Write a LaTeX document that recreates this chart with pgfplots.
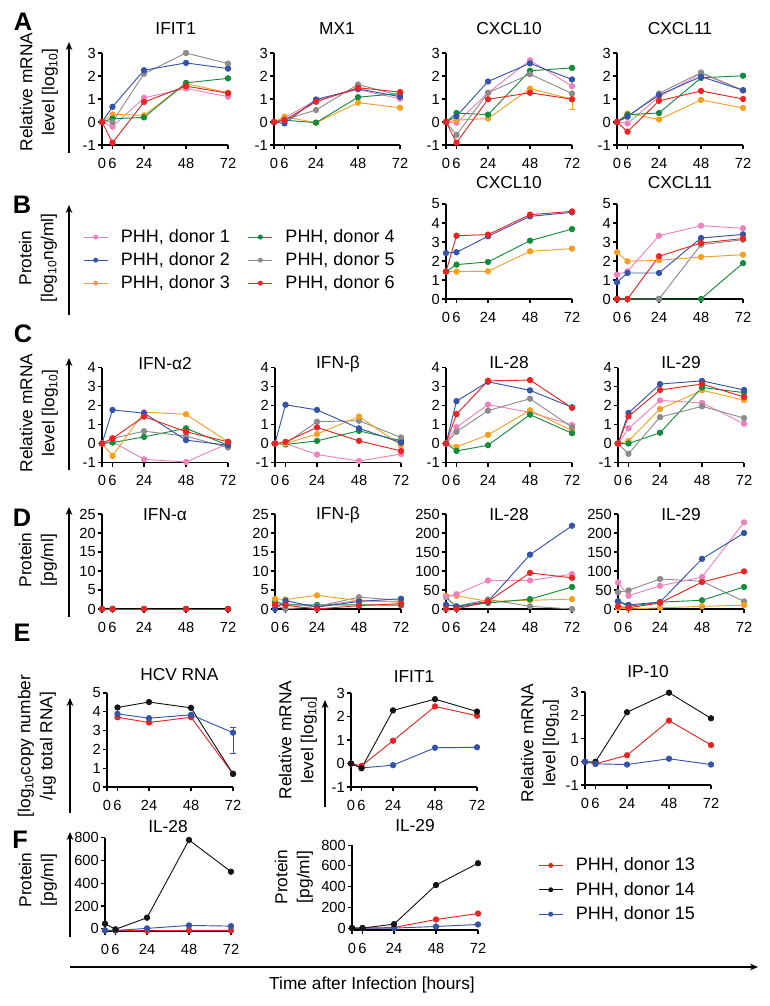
\documentclass[border=0pt]{standalone}
\usepackage{fontspec}
\setmainfont{Liberation Sans}
\usepackage{pgfplots}
\pgfplotsset{compat=1.18}
\usetikzlibrary{arrows.meta}

\definecolor{pk}{RGB}{238,130,190}
\definecolor{bl}{RGB}{52,84,170}
\definecolor{og}{RGB}{245,160,35}
\definecolor{gn}{RGB}{20,140,60}
\definecolor{gy}{RGB}{140,140,140}
\definecolor{rd}{RGB}{235,35,35}
\definecolor{bk}{RGB}{20,20,20}

\newcommand{\lab}{\fontsize{13}{16.5}\selectfont}
\newcommand{\letter}{\fontsize{19}{21}\selectfont\bfseries}

\pgfplotsset{
  d/.style={color=#1, line width=0.7pt, mark=*, mark size=2pt},
  panel/.style={
    scale only axis, width=94.5pt, anchor=south west,
    axis x line*=bottom, axis y line*=left,
    xmin=0, xmax=72, xtick={0,6,24,48,72},
    tick align=outside, major tick length=3pt,
    every tick/.style={black, line width=0.8pt},
    axis line style={black, line width=1pt},
    ticklabel style={font=\fontsize{11}{13}\selectfont, inner sep=1.5pt},
    xticklabel style={yshift=-5pt},
    /pgf/number format/assume math mode=true,
    title style={font=\fontsize{13}{15}\selectfont, at={(0.5,1)}, anchor=center},
    clip=false,
  },
  leg/.style={
    legend style={draw=none, fill=none, inner sep=0pt, row sep=3pt,
      font=\fontsize{13.5}{16}\selectfont,
      nodes={inner sep=1.5pt},
      /tikz/every odd column/.append style={column sep=8pt},
      /tikz/every even column/.append style={column sep=12pt}},
    legend cell align=left,
    legend image code/.code={\draw[##1, mark size=1.5pt, mark repeat=2, mark phase=2]
      plot coordinates {(0pt,0pt)(9pt,0pt)(18pt,0pt)};},
  },
}

\begin{document}
\begin{tikzpicture}

% ---------- A: relative mRNA ----------
\begin{axis}[panel, at={(76.5pt,-108.75pt)}, height=69pt, ymin=-1, ymax=3, ytick={-1,0,1,2,3},
  title={IFIT1}, title style={yshift=12pt, xshift=8pt}]
\addplot[d=pk] coordinates {(0,0)(6,-0.2)(24,1.05)(48,1.46)(72,1.1)};
\addplot[d=og] coordinates {(0,0)(6,0.33)(24,0.29)(48,1.67)(72,1.27)};
\addplot[d=gn] coordinates {(0,0)(6,0.14)(24,0.2)(48,1.7)(72,1.9)};
\addplot[d=gy] coordinates {(0,0)(6,0)(24,2.1)(48,3.0)(72,2.54)};
\addplot[d=bl] coordinates {(0,0)(6,0.66)(24,2.25)(48,2.57)(72,2.32)};
\addplot[d=rd] coordinates {(0,0)(6,-0.9)(24,0.87)(48,1.56)(72,1.25)};
\end{axis}

\begin{axis}[panel, at={(205.5pt,-108.75pt)}, height=69pt, ymin=-1, ymax=3, ytick={-1,0,1,2,3},
  title={MX1}, title style={yshift=12pt}]
\addplot[d=pk] coordinates {(0,0)(6,0.19)(24,0.94)(48,1.41)(72,1.01)};
\addplot[d=og] coordinates {(0,0)(6,0.23)(24,-0.03)(48,0.84)(72,0.62)};
\addplot[d=gn] coordinates {(0,0)(6,0.08)(24,-0.03)(48,1.08)(72,1.24)};
\addplot[d=gy] coordinates {(0,0)(6,0.1)(24,0.52)(48,1.63)(72,1.15)};
\addplot[d=bl] coordinates {(0,0)(6,-0.06)(24,0.98)(48,1.44)(72,1.1)};
\addplot[d=rd] coordinates {(0,0)(6,0.08)(24,0.88)(48,1.49)(72,1.3)};
\end{axis}

\begin{axis}[panel, at={(334.5pt,-108.75pt)}, height=69pt, ymin=-1, ymax=3, ytick={-1,0,1,2,3},
  title={CXCL10}, title style={yshift=12pt}]
\addplot[d=pk] coordinates {(0,0)(6,-0.03)(24,1.27)(48,2.68)(72,1.56)};
\addplot[d=og, error bars/.cd, y dir=minus, y explicit] coordinates {(0,0)(6,0.08)(24,0.15)(48,1.45)(72,0.99) -= (0,0.45)};
\addplot[d=gn] coordinates {(0,0)(6,0.39)(24,0.32)(48,2.23)(72,2.35)};
\addplot[d=gy] coordinates {(0,0)(6,-0.56)(24,1.27)(48,2.08)(72,1.24)};
\addplot[d=bl] coordinates {(0,0)(6,0.25)(24,1.76)(48,2.55)(72,1.85)};
\addplot[d=rd] coordinates {(0,0)(6,-0.9)(24,0.99)(48,1.27)(72,0.99)};
\end{axis}

\begin{axis}[panel, at={(462.75pt,-108.75pt)}, height=69pt, ymin=-1, ymax=3, ytick={-1,0,1,2,3},
  title={CXCL11}, title style={yshift=12pt}]
\addplot[d=pk] coordinates {(0,0)(6,-0.06)(24,1.1)(48,2.1)(72,1.38)};
\addplot[d=og] coordinates {(0,0)(6,0.37)(24,0.11)(48,0.96)(72,0.61)};
\addplot[d=gn] coordinates {(0,0)(6,0.32)(24,0.39)(48,1.92)(72,2.01)};
\addplot[d=gy] coordinates {(0,0)(6,0.22)(24,1.24)(48,2.15)(72,1.38)};
\addplot[d=bl] coordinates {(0,0)(6,0.25)(24,1.17)(48,1.97)(72,1.38)};
\addplot[d=rd] coordinates {(0,0)(6,-0.42)(24,0.92)(48,1.35)(72,1.0)};
\end{axis}

% ---------- B: protein (log) ----------
\begin{axis}[panel, leg, at={(334.5pt,-224.25pt)}, height=71.25pt, ymin=0, ymax=5, ytick={0,...,5},
  title={CXCL10}, title style={yshift=10pt},
  legend columns=2, legend style={at={(-2.881,0.755)}, anchor=north west}]
\addplot[d=og, forget plot] coordinates {(0,1.44)(6,1.44)(24,1.46)(48,2.51)(72,2.65)};
\addplot[d=gn, forget plot] coordinates {(0,1.44)(6,1.81)(24,1.95)(48,3.07)(72,3.68)};
\addplot[d=bl, forget plot] coordinates {(0,2.42)(6,2.46)(24,3.3)(48,4.35)(72,4.56)};
\addplot[d=rd, forget plot] coordinates {(0,1.44)(6,3.33)(24,3.39)(48,4.44)(72,4.61)};
\addlegendimage{d=pk}\addlegendentry{PHH, donor 1}
\addlegendimage{d=gn}\addlegendentry{PHH, donor 4}
\addlegendimage{d=bl}\addlegendentry{PHH, donor 2}
\addlegendimage{d=gy}\addlegendentry{PHH, donor 5}
\addlegendimage{d=og}\addlegendentry{PHH, donor 3}
\addlegendimage{d=rd}\addlegendentry{PHH, donor 6}
\end{axis}

\begin{axis}[panel, at={(462.75pt,-224.25pt)}, height=71.25pt, ymin=0, ymax=5, ytick={0,...,5},
  title={CXCL11}, title style={yshift=10pt}]
\addplot[d=gn] coordinates {(0,0)(6,0)(24,0)(48,0)(72,1.89)};
\addplot[d=gy] coordinates {(0,0)(6,0)(24,0)(48,2.86)(72,3.12)};
\addplot[d=og] coordinates {(0,2.46)(6,1.98)(24,2.04)(48,2.21)(72,2.33)};
\addplot[d=pk] coordinates {(0,1.28)(6,1.46)(24,3.33)(48,3.86)(72,3.72)};
\addplot[d=bl] coordinates {(0,0.88)(6,1.37)(24,1.37)(48,3.21)(72,3.4)};
\addplot[d=rd] coordinates {(0,0)(6,0)(24,2.25)(48,2.95)(72,3.18)};
\end{axis}

% ---------- C: relative mRNA, interferons ----------
\begin{axis}[panel, at={(76.5pt,-346.9pt)}, height=71.25pt, ymin=-1, ymax=4, ytick={-1,...,4},
  title={IFN-α2}, title style={yshift=-3pt}]
\addplot[d=pk] coordinates {(0,0)(6,0.09)(24,-0.83)(48,-0.97)(72,0)};
\addplot[d=gn] coordinates {(0,0)(6,0.05)(24,0.35)(48,0.8)(72,-0.09)};
\addplot[d=gy] coordinates {(0,0)(6,0.27)(24,0.65)(48,0.39)(72,-0.21)};
\addplot[d=og] coordinates {(0,0)(6,-0.65)(24,1.65)(48,1.54)(72,0.09)};
\addplot[d=bl] coordinates {(0,0)(6,1.77)(24,1.6)(48,0.18)(72,-0.09)};
\addplot[d=rd] coordinates {(0,0)(6,0.27)(24,1.42)(48,0.62)(72,0.09)};
\end{axis}

\begin{axis}[panel, at={(206.25pt,-346.9pt)}, height=71.25pt, ymin=-1, ymax=4, ytick={-1,...,4},
  title={IFN-β}, title style={yshift=-3pt}]
\addplot[d=pk] coordinates {(0,0)(6,0)(24,-0.58)(48,-0.92)(72,-0.55)};
\addplot[d=gn] coordinates {(0,0)(6,-0.05)(24,0.14)(48,0.67)(72,0.15)};
\addplot[d=gy] coordinates {(0,0)(6,0)(24,1.15)(48,1.2)(72,0.32)};
\addplot[d=og] coordinates {(0,0)(6,0)(24,0.5)(48,1.42)(72,-0.09)};
\addplot[d=bl] coordinates {(0,0)(6,2.04)(24,1.77)(48,0.8)(72,0.05)};
\addplot[d=rd] coordinates {(0,0)(6,0.09)(24,0.85)(48,0.14)(72,-0.39)};
\end{axis}

\begin{axis}[panel, at={(334.5pt,-346.9pt)}, height=71.25pt, ymin=-1, ymax=4, ytick={-1,...,4},
  title={IL-28}, title style={yshift=-2pt}]
\addplot[d=pk] coordinates {(0,0)(6,0.86)(24,2.05)(48,1.64)(72,0.98)};
\addplot[d=og] coordinates {(0,0)(6,-0.18)(24,0.46)(48,1.75)(72,0.68)};
\addplot[d=gn] coordinates {(0,0)(6,-0.39)(24,-0.09)(48,1.52)(72,0.54)};
\addplot[d=gy] coordinates {(0,0)(6,0.62)(24,1.73)(48,2.36)(72,0.86)};
\addplot[d=bl] coordinates {(0,0)(6,2.23)(24,3.25)(48,2.8)(72,1.91)};
\addplot[d=rd] coordinates {(0,0)(6,1.55)(24,3.3)(48,3.34)(72,1.88)};
\end{axis}

\begin{axis}[panel, at={(463.5pt,-346.9pt)}, height=71.25pt, ymin=-1, ymax=4, ytick={-1,...,4},
  title={IL-29}, title style={yshift=-2pt}]
\addplot[d=pk] coordinates {(0,0)(6,0.8)(24,2.27)(48,2.14)(72,1.04)};
\addplot[d=og] coordinates {(0,0)(6,0.14)(24,1.82)(48,2.8)(72,2.29)};
\addplot[d=gn] coordinates {(0,0)(6,0)(24,0.57)(48,2.95)(72,2.68)};
\addplot[d=gy] coordinates {(0,0)(6,-0.54)(24,1.39)(48,1.96)(72,1.34)};
\addplot[d=bl] coordinates {(0,0)(6,1.61)(24,3.13)(48,3.3)(72,2.82)};
\addplot[d=rd] coordinates {(0,0)(6,1.43)(24,2.82)(48,3.13)(72,2.45)};
\end{axis}

% ---------- D: protein, interferons ----------
\begin{axis}[panel, at={(76.5pt,-456.75pt)}, height=71.25pt, ymin=0, ymax=25, ytick={0,5,...,25},
  title={IFN-α}, title style={yshift=-6.4pt}]
\addplot[d=pk] coordinates {(0,0)(6,0)(24,0)(48,0)(72,0)};
\addplot[d=bl] coordinates {(0,0)(6,0)(24,0)(48,0)(72,0)};
\addplot[d=gn] coordinates {(0,0)(6,0)(24,0)(48,0)(72,0)};
\addplot[d=rd] coordinates {(0,0)(6,0)(24,0)(48,0)(72,0)};
\end{axis}

\begin{axis}[panel, at={(206.25pt,-456.75pt)}, height=71.25pt, ymin=0, ymax=25, ytick={0,5,...,25},
  title={IFN-β}, title style={yshift=-6.4pt}]
\addplot[d=pk] coordinates {(0,1.6)(6,1.4)(24,0.7)(48,2.3)(72,1.9)};
\addplot[d=gn] coordinates {(0,2.0)(6,1.1)(24,1.1)(48,1.1)(72,1.0)};
\addplot[d=gy] coordinates {(0,0.9)(6,0)(24,0.7)(48,3.1)(72,2.3)};
\addplot[d=og] coordinates {(0,2.65)(6,2.5)(24,3.6)(48,2.2)(72,1.8)};
\addplot[d=bl] coordinates {(0,0)(6,2.2)(24,0.5)(48,2.0)(72,2.7)};
\addplot[d=rd] coordinates {(0,1.1)(6,1.0)(24,0)(48,0.9)(72,1.4)};
\end{axis}

\begin{axis}[panel, at={(334.5pt,-456.75pt)}, height=71.25pt, ymin=0, ymax=250, ytick={0,50,...,250},
  title={IL-28}, title style={yshift=-6.4pt}]
\addplot[d=gy] coordinates {(0,11)(6,7)(24,25)(48,7)(72,0)};
\addplot[d=og] coordinates {(0,35)(6,35)(24,20)(48,23)(72,26)};
\addplot[d=gn] coordinates {(0,31)(6,5)(24,16)(48,26)(72,58)};
\addplot[d=pk] coordinates {(0,32)(6,39)(24,75)(48,75)(72,92)};
\addplot[d=bl] coordinates {(0,11)(6,7)(24,20)(48,143)(72,219)};
\addplot[d=rd] coordinates {(0,0)(6,0)(24,20)(48,95)(72,82)};
\end{axis}

\begin{axis}[panel, at={(463.5pt,-456.75pt)}, height=71.25pt, ymin=0, ymax=250, ytick={0,50,...,250},
  title={IL-29}, title style={yshift=-6.4pt}]
\addplot[d=gy] coordinates {(0,44)(6,49)(24,79)(48,73)(72,20)};
\addplot[d=gn] coordinates {(0,20)(6,7)(24,18)(48,23)(72,58)};
\addplot[d=og] coordinates {(0,3)(6,0)(24,3)(48,7)(72,10)};
\addplot[d=pk] coordinates {(0,70)(6,35)(24,61)(48,84)(72,228)};
\addplot[d=bl] coordinates {(0,20)(6,11)(24,18)(48,132)(72,200)};
\addplot[d=rd] coordinates {(0,7)(6,3)(24,16)(48,71)(72,99)};
\end{axis}

% ---------- E ----------
\begin{axis}[panel, at={(80.25pt,-590.25pt)}, height=70.5pt, ymin=0, ymax=5, ytick={0,...,5},
  title={HCV RNA}, title style={yshift=7.5pt, xshift=7pt}]
\addplot[d=rd] coordinates {(6,3.71)(24,3.43)(48,3.71)(72,0.7)};
\addplot[d=bk] coordinates {(6,4.23)(24,4.52)(48,4.21)(72,0.7)};
\addplot[d=bl, error bars/.cd, y dir=both, y explicit] coordinates {(6,3.89)(24,3.66)(48,3.84)(72,2.89) += (0,0.3) -= (0,1.1)};
\end{axis}

\begin{axis}[panel, at={(263.25pt,-590.25pt)}, height=70.5pt, ymin=-1, ymax=3, ytick={-1,0,1,2,3},
  title={IFIT1}, title style={yshift=6pt}]
\addplot[d=bl] coordinates {(0,0)(6,-0.19)(24,-0.07)(48,0.67)(72,0.69)};
\addplot[d=rd] coordinates {(0,0)(6,-0.1)(24,0.97)(48,2.43)(72,2.03)};
\addplot[d=bk] coordinates {(0,0)(6,-0.2)(24,2.26)(48,2.74)(72,2.21)};
\end{axis}

\begin{axis}[panel, at={(438.75pt,-588.75pt)}, height=69.75pt, ymin=-1, ymax=3, ytick={-1,0,1,2,3},
  title={IP-10}, title style={yshift=9pt}]
\addplot[d=bk] coordinates {(0,0)(6,0)(24,2.13)(48,2.97)(72,1.87)};
\addplot[d=rd] coordinates {(0,0)(6,-0.09)(24,0.28)(48,1.77)(72,0.72)};
\addplot[d=bl] coordinates {(0,0)(6,-0.09)(24,-0.12)(48,0.13)(72,-0.12)};
\end{axis}

% ---------- F ----------
\begin{axis}[panel, at={(78.75pt,-698.25pt)}, height=70pt, ymin=-20, ymax=800, ytick={0,200,...,800},
  title={IL-28}, title style={yshift=2pt}]
\addplot[d=rd] coordinates {(0,-15)(6,-15)(24,-18)(48,-15)(72,-15)};
\addplot[d=bl] coordinates {(0,-15)(6,-15)(24,3)(48,29)(72,23)};
\addplot[d=bk] coordinates {(0,44)(6,-5)(24,97)(48,780)(72,501)};
\end{axis}

\begin{axis}[panel, leg, at={(264pt,-697.6pt)}, height=63.8pt, ymin=-20, ymax=800, ytick={0,200,...,800},
  title={IL-29}, title style={yshift=9pt},
  legend style={at={(1.476,0.876)}, anchor=north west, row sep=4pt}]
\addplot[d=rd, forget plot] coordinates {(0,0)(6,0)(24,5)(48,83)(72,140)};
\addplot[d=bl, forget plot] coordinates {(0,0)(6,0)(24,0)(48,15)(72,35)};
\addplot[d=bk, forget plot] coordinates {(0,0)(6,0)(24,38)(48,415)(72,625)};
\addlegendimage{d=rd}\addlegendentry{PHH, donor 13}
\addlegendimage{d=bk}\addlegendentry{PHH, donor 14}
\addlegendimage{d=bl}\addlegendentry{PHH, donor 15}
\end{axis}

% ---------- labels, arrows ----------
\begin{scope}[x=0.75pt, y=-0.75pt]
\path[use as bounding box] (0,0) rectangle (769,1006);
\tikzset{ar/.style={line width=0.9pt, -{Stealth[length=6pt,width=5pt]}}}

\node[font=\letter] at (23,22) {A};
\node[font=\letter] at (22,205) {B};
\node[font=\letter] at (23,334) {C};
\node[font=\letter] at (22,518) {D};
\node[font=\letter] at (22,633) {E};
\node[font=\letter] at (20,840) {F};

\draw[ar] (69,153) -- (69,42);
\draw[ar] (69,315) -- (69,205);
\draw[ar] (69,470) -- (69,358);
\draw[ar] (69,617) -- (69,507);
\draw[ar] (70,813) -- (70,698);
\draw[ar] (325,807) -- (325,700);
\draw[ar] (70,937) -- (70,832);
\draw[ar] (70,967) -- (758,967);

\node[rotate=90, align=center, font=\lab] at (39,92) {Relative mRNA\\{}level {[}log\textsubscript{10}{]}};
\node[rotate=90, align=center, font=\lab] at (38,258) {Protein\\{}{[}log\textsubscript{10}ng/ml{]}};
\node[rotate=90, align=center, font=\lab] at (39,413) {Relative mRNA\\{}level {[}log\textsubscript{10}{]}};
\node[rotate=90, align=center, font=\lab] at (38,560) {Protein\\{}{[}pg/ml{]}};
\node[rotate=90, align=center, font=\lab] at (37,746) {{[}log\textsubscript{10}copy number\\{}/µg total RNA{]}};
\node[rotate=90, align=center, font=\lab] at (298,740) {Relative mRNA\\{}level {[}log\textsubscript{10}{]}};
\node[rotate=90, align=center, font=\lab] at (540,743) {Relative mRNA\\{}level {[}log\textsubscript{10}{]}};
\node[rotate=90, align=center, font=\lab] at (38,880) {Protein\\{}{[}pg/ml{]}};
\node[rotate=90, align=center, font=\lab] at (294,877) {Protein\\{}{[}pg/ml{]}};

\node[font=\lab] at (372,985) {Time after Infection [hours]};
\end{scope}
\end{tikzpicture}
\end{document}
